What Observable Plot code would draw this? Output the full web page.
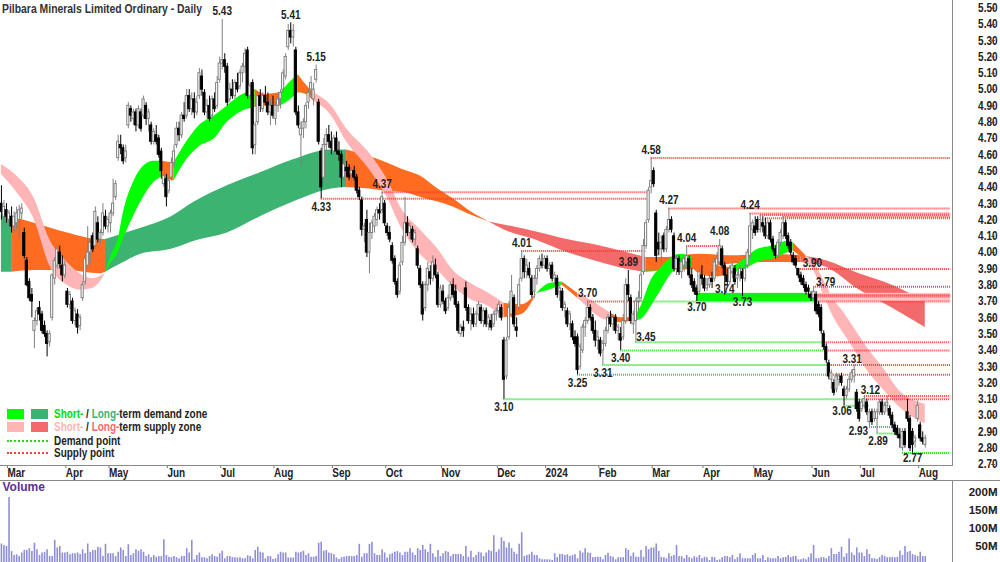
<!DOCTYPE html>
<html><head><meta charset="utf-8">
<script src="https://cdn.jsdelivr.net/npm/d3@7"></script>
<script src="https://cdn.jsdelivr.net/npm/@observablehq/plot@0.6"></script>
<style>
body{margin:0;background:#fff;}
#wrap{position:relative;width:1000px;height:562px;overflow:hidden;font-family:'Liberation Sans Narrow','Arial Narrow','Liberation Sans',Arial,sans-serif;}
#wrap svg{display:block}
.ln{position:absolute;background:#8a8a8a;}
.lg{position:absolute;font-size:12px;font-weight:bold;line-height:14px;color:#222;white-space:nowrap;transform:scaleX(0.83);transform-origin:0 50%;}
.ttl{position:absolute;left:2px;top:1px;font-size:13px;font-weight:bold;line-height:15px;color:#333;white-space:nowrap;transform:scaleX(0.8);transform-origin:0 50%;}
.sw{position:absolute;width:17px;height:10px;}
.dl{position:absolute;width:41px;height:0;border-top-width:2px;border-top-style:dotted;}
</style></head><body><div id="wrap"></div>
<script>
// ---------------- DATA ----------------
const holidayList = ["2023-04-07","2023-04-10","2023-04-25","2023-06-12","2023-12-25","2023-12-26","2024-01-01","2024-01-26","2024-03-29","2024-04-01","2024-04-25","2024-06-10"];

const open = [
4.30,4.22,4.26,4.20,4.22,4.16,4.18,4.20,4.24,4.12,
3.95,3.82,3.74,3.52,3.58,3.66,3.62,3.55,3.50,3.45,
3.60,3.84,3.92,4.00,3.92,3.86,3.76,3.68,3.70,3.58,
3.62,3.55,3.72,3.82,3.92,4.00,4.10,4.04,4.18,4.08,
4.12,4.22,4.16,4.18,4.24,4.34,4.58,4.66,4.64,4.58,
4.78,4.88,4.82,4.86,4.78,4.86,4.84,4.90,4.82,4.78,
4.68,4.72,4.70,4.62,4.42,4.45,4.38,4.46,4.55,4.66,
4.76,4.72,4.84,4.84,4.96,4.88,4.94,4.86,4.96,5.08,
4.98,4.86,4.90,4.84,4.94,4.90,5.06,5.16,5.18,5.14,
4.94,5.00,4.96,5.04,5.02,5.10,5.14,5.24,4.96,5.04,
4.66,4.80,4.96,4.88,4.96,4.92,4.86,4.90,4.82,4.90,
4.94,5.00,5.08,5.26,5.36,5.32,5.24,4.86,4.72,4.76,
4.80,4.92,5.00,4.94,5.06,4.92,4.62,4.46,4.66,4.72,
4.68,4.62,4.70,4.62,4.60,4.46,4.52,4.52,4.48,4.50,
4.46,4.38,4.32,4.14,4.20,4.00,4.12,4.16,4.20,4.26,
4.26,4.30,4.16,4.12,4.04,3.96,3.82,3.76,3.94,4.06,
4.18,4.12,4.14,4.08,4.02,3.90,3.80,3.66,3.80,3.88,
3.84,3.92,3.86,3.68,3.76,3.70,3.66,3.72,3.80,3.76,
3.68,3.50,3.54,3.78,3.66,3.58,3.62,3.56,3.62,3.66,
3.58,3.64,3.56,3.58,3.56,3.62,3.64,3.66,3.46,3.24,
3.48,3.62,3.72,3.54,3.66,3.84,3.96,3.88,3.90,3.84,
3.76,3.84,3.90,3.94,3.92,3.96,3.90,3.92,3.84,3.84,
3.76,3.76,3.66,3.64,3.56,3.56,3.48,3.48,3.30,3.40,
3.54,3.58,3.66,3.60,3.52,3.46,3.46,3.40,3.44,3.52,
3.60,3.56,3.60,3.52,3.50,3.48,3.58,3.80,3.72,3.56,
3.58,3.70,3.72,3.88,4.04,4.20,4.40,4.50,4.24,4.06,
4.02,4.10,4.02,4.14,4.20,4.10,3.90,3.96,3.88,3.92,
3.94,3.96,3.86,3.82,3.78,3.76,3.86,3.84,3.78,3.80,
3.84,3.84,3.92,3.94,4.02,3.92,3.86,3.82,3.88,3.90,
3.84,3.86,3.88,3.84,3.92,3.98,4.14,4.16,4.20,4.14,
4.18,4.16,4.10,4.18,4.08,4.02,3.98,4.06,4.10,4.18,
4.10,4.06,3.98,3.96,3.90,3.86,3.84,3.80,3.78,3.74,
3.72,3.74,3.68,3.66,3.50,3.42,3.32,3.22,3.20,3.16,
3.22,3.24,3.16,3.12,3.16,3.22,3.24,3.14,3.08,3.04,
3.06,3.08,2.96,3.02,2.98,2.98,3.02,3.08,3.02,3.06,
3.04,3.00,2.94,2.92,2.88,2.80,2.90,3.02,2.98,2.90,
2.84,2.98,2.94,2.86,2.82];

const high = [
4.41,4.32,4.30,4.26,4.28,4.25,4.28,4.29,4.30,4.15,
3.97,3.84,3.78,3.60,3.66,3.70,3.64,3.58,3.52,3.52,
3.87,3.97,4.05,4.04,3.98,3.95,3.78,3.76,3.72,3.66,
3.65,3.62,3.82,3.98,4.16,4.08,4.12,4.28,4.22,4.14,
4.30,4.26,4.22,4.26,4.45,4.44,4.72,4.72,4.66,4.66,
4.92,4.90,4.88,4.88,4.90,4.88,4.96,4.92,4.88,4.80,
4.76,4.78,4.72,4.64,4.49,4.48,4.46,4.58,4.66,4.80,
4.80,4.86,4.92,5.00,5.00,4.98,4.98,4.96,5.13,5.12,
5.00,4.94,4.96,4.96,4.98,5.08,5.20,5.43,5.22,5.16,
5.04,5.06,5.06,5.10,5.12,5.16,5.25,5.26,5.04,5.06,
4.80,4.98,5.00,4.98,5.02,4.98,4.94,4.96,4.92,4.98,
5.00,5.12,5.22,5.40,5.41,5.40,5.26,4.90,4.80,4.82,
4.92,5.00,5.08,5.04,5.15,4.94,4.64,4.70,4.76,4.78,
4.74,4.72,4.74,4.68,4.62,4.58,4.56,4.54,4.52,4.53,
4.48,4.40,4.34,4.18,4.26,4.18,4.20,4.24,4.28,4.30,
4.37,4.32,4.18,4.16,4.06,3.98,3.84,3.94,4.10,4.34,
4.22,4.18,4.16,4.14,4.04,3.92,3.82,3.82,3.94,3.92,
3.98,3.96,3.88,3.80,3.80,3.72,3.74,3.82,3.84,3.80,
3.70,3.56,3.58,3.82,3.68,3.66,3.66,3.64,3.70,3.68,
3.66,3.66,3.62,3.62,3.64,3.66,3.70,3.68,3.48,3.48,
3.70,3.86,3.74,3.60,3.84,4.01,3.98,3.96,3.94,3.86,
3.86,3.92,3.98,3.99,3.98,3.98,3.94,3.94,3.88,3.86,
3.80,3.78,3.70,3.66,3.64,3.58,3.52,3.50,3.44,3.56,
3.60,3.70,3.68,3.62,3.58,3.52,3.48,3.46,3.54,3.62,
3.64,3.62,3.62,3.56,3.54,3.62,3.84,3.89,3.74,3.64,
3.72,3.76,3.88,4.08,4.20,4.40,4.58,4.52,4.26,4.12,
4.10,4.12,4.16,4.27,4.22,4.12,3.98,3.98,3.96,3.98,
4.04,3.98,3.90,3.84,3.80,3.90,3.92,3.86,3.84,3.86,
3.88,3.96,4.00,4.08,4.04,3.94,3.90,3.92,3.94,3.92,
3.88,3.92,3.90,3.92,4.02,4.24,4.20,4.22,4.22,4.23,
4.22,4.21,4.20,4.20,4.10,4.04,4.08,4.14,4.22,4.20,
4.12,4.08,4.00,3.98,3.90,3.88,3.86,3.82,3.80,3.76,
3.79,3.76,3.70,3.68,3.52,3.44,3.34,3.28,3.22,3.26,
3.26,3.26,3.18,3.18,3.24,3.28,3.31,3.16,3.10,3.10,
3.12,3.10,3.04,3.04,3.04,3.04,3.10,3.10,3.08,3.12,
3.06,3.02,2.96,2.94,2.92,2.92,2.92,3.10,3.00,2.92,
2.88,3.09,2.96,2.90,2.88];

const low = [
4.20,4.16,4.18,4.16,4.12,4.12,4.14,4.08,4.20,3.96,
3.79,3.70,3.60,3.41,3.55,3.58,3.50,3.48,3.36,3.42,
3.58,3.80,3.90,3.90,3.82,3.84,3.66,3.65,3.56,3.55,
3.50,3.52,3.70,3.80,3.90,3.93,4.00,4.02,4.06,4.05,
4.10,4.14,4.12,4.12,4.22,4.32,4.56,4.60,4.54,4.55,
4.76,4.80,4.78,4.74,4.76,4.74,4.82,4.78,4.74,4.66,
4.66,4.66,4.58,4.45,4.40,4.28,4.36,4.44,4.52,4.64,
4.68,4.70,4.80,4.82,4.86,4.84,4.82,4.84,4.94,4.96,
4.84,4.82,4.80,4.82,4.86,4.88,5.04,5.12,5.10,4.90,
4.92,4.94,4.94,4.98,5.00,5.04,5.10,4.94,4.94,4.60,
4.60,4.78,4.86,4.86,4.90,4.84,4.78,4.82,4.78,4.86,
4.88,4.98,5.06,5.24,5.28,5.26,4.84,4.76,4.53,4.70,
4.76,4.88,4.96,4.90,5.04,4.66,4.33,4.44,4.62,4.64,
4.60,4.58,4.60,4.56,4.40,4.44,4.46,4.44,4.42,4.44,
4.36,4.32,4.10,4.06,3.97,3.87,4.08,4.12,4.16,4.20,
4.24,4.16,4.10,4.06,3.93,3.80,3.72,3.74,3.92,4.04,
4.10,4.08,4.06,4.04,3.90,3.78,3.58,3.64,3.76,3.80,
3.82,3.84,3.66,3.66,3.68,3.62,3.64,3.70,3.72,3.66,
3.50,3.48,3.48,3.64,3.56,3.52,3.54,3.54,3.58,3.56,
3.54,3.54,3.52,3.52,3.54,3.58,3.60,3.58,3.10,3.22,
3.46,3.60,3.54,3.48,3.64,3.82,3.84,3.84,3.84,3.72,
3.72,3.80,3.88,3.90,3.90,3.88,3.86,3.82,3.80,3.72,
3.70,3.64,3.60,3.54,3.52,3.46,3.42,3.25,3.28,3.38,
3.48,3.56,3.58,3.50,3.42,3.40,3.36,3.31,3.42,3.50,
3.54,3.52,3.50,3.46,3.40,3.46,3.56,3.70,3.56,3.50,
3.45,3.64,3.70,3.86,4.02,4.18,4.36,4.40,3.94,3.98,
3.92,4.00,4.00,4.12,4.12,3.88,3.86,3.86,3.84,3.88,
3.90,3.84,3.78,3.74,3.70,3.74,3.80,3.76,3.76,3.78,
3.78,3.82,3.88,3.92,3.90,3.74,3.80,3.80,3.84,3.80,
3.78,3.82,3.73,3.82,3.90,3.96,4.08,4.10,4.12,4.12,
4.12,4.08,4.08,4.06,4.00,3.96,3.96,4.04,4.08,4.08,
4.02,3.98,3.92,3.90,3.84,3.80,3.78,3.74,3.72,3.70,
3.70,3.62,3.60,3.50,3.40,3.32,3.22,3.16,3.12,3.14,
3.18,3.18,3.06,3.10,3.14,3.20,3.20,3.02,2.96,3.02,
3.04,3.00,2.93,2.94,2.96,2.89,3.00,3.00,3.00,3.02,
2.98,2.92,2.88,2.86,2.80,2.78,2.80,2.96,2.78,2.77,
2.80,2.96,2.84,2.82,2.80];

const close = [
4.25,4.28,4.22,4.24,4.16,4.22,4.24,4.26,4.27,3.98,
3.80,3.72,3.70,3.58,3.64,3.62,3.52,3.50,3.44,3.50,
3.86,3.95,4.02,3.93,3.86,3.92,3.68,3.74,3.58,3.64,
3.54,3.60,3.80,3.96,4.00,4.06,4.02,4.25,4.08,4.12,
4.24,4.16,4.20,4.24,4.30,4.42,4.68,4.64,4.56,4.62,
4.90,4.84,4.86,4.78,4.88,4.76,4.94,4.82,4.86,4.68,
4.74,4.68,4.60,4.50,4.47,4.34,4.44,4.55,4.62,4.76,
4.72,4.84,4.82,4.96,4.88,4.94,4.86,4.92,5.10,5.00,
4.86,4.90,4.82,4.94,4.88,5.04,5.16,5.18,5.14,4.92,
5.00,4.96,5.04,5.00,5.10,5.14,5.22,4.96,5.02,4.64,
4.78,4.96,4.90,4.96,4.92,4.86,4.90,4.84,4.90,4.94,
4.98,5.10,5.20,5.36,5.32,5.36,4.86,4.78,4.76,4.80,
4.90,4.98,5.04,5.00,5.12,4.68,4.40,4.66,4.72,4.68,
4.64,4.70,4.62,4.60,4.46,4.54,4.50,4.46,4.50,4.46,
4.38,4.34,4.14,4.16,4.00,4.12,4.18,4.22,4.26,4.24,
4.34,4.18,4.12,4.08,3.95,3.82,3.74,3.92,4.06,4.18,
4.12,4.16,4.08,4.12,3.92,3.80,3.62,3.80,3.90,3.84,
3.94,3.86,3.68,3.78,3.70,3.64,3.72,3.80,3.74,3.68,
3.52,3.54,3.52,3.66,3.58,3.62,3.56,3.62,3.68,3.58,
3.64,3.56,3.60,3.54,3.62,3.64,3.68,3.60,3.22,3.46,
3.66,3.76,3.56,3.52,3.80,3.96,3.88,3.92,3.86,3.74,
3.84,3.90,3.96,3.92,3.96,3.90,3.92,3.84,3.86,3.74,
3.78,3.66,3.68,3.56,3.62,3.48,3.44,3.28,3.42,3.54,
3.58,3.66,3.60,3.52,3.46,3.48,3.38,3.44,3.52,3.60,
3.56,3.60,3.52,3.54,3.46,3.58,3.80,3.74,3.58,3.62,
3.70,3.72,3.86,4.04,4.18,4.38,4.44,4.42,3.98,4.02,
4.06,4.02,4.14,4.20,4.14,3.90,3.96,3.88,3.94,3.96,
3.98,3.86,3.80,3.76,3.74,3.88,3.84,3.78,3.80,3.84,
3.82,3.94,3.96,4.04,3.92,3.86,3.82,3.90,3.92,3.82,
3.86,3.90,3.84,3.90,4.00,4.16,4.18,4.12,4.14,4.20,
4.16,4.10,4.18,4.08,4.02,3.98,4.06,4.12,4.18,4.10,
4.04,4.00,3.94,3.92,3.86,3.82,3.80,3.76,3.76,3.72,
3.76,3.64,3.62,3.52,3.42,3.34,3.24,3.26,3.14,3.24,
3.24,3.20,3.12,3.16,3.22,3.26,3.28,3.04,2.98,3.08,
3.10,3.02,3.02,2.96,3.02,3.02,3.08,3.02,3.06,3.08,
3.00,2.94,2.90,2.88,2.86,2.90,2.82,2.98,2.80,2.82,
2.86,3.06,2.86,2.84,2.86];

// volume, millions of shares
const volumeM = [
57,53,50,186,36,25,27,22,32,39,
39,44,36,59,41,25,32,34,41,22,
22,67,46,50,32,32,34,27,30,30,
32,28,41,30,57,34,39,39,48,46,
22,56,30,30,30,22,34,46,39,22,
55,25,30,41,37,41,34,22,27,19,
25,20,22,22,69,25,20,19,22,19,
16,22,22,44,32,67,13,25,32,19,
19,16,22,27,22,20,30,37,16,22,
22,19,19,18,19,16,16,24,22,16,
39,48,34,32,16,22,22,14,16,27,
34,32,32,18,18,18,34,32,34,37,
25,30,20,20,22,59,62,37,39,32,
30,27,18,14,19,20,22,22,22,22,
25,56,20,30,30,56,62,30,25,25,
41,32,18,27,30,34,36,32,25,34,
34,44,32,25,44,39,53,41,34,56,
30,20,39,22,30,36,34,22,28,28,
28,28,22,50,20,
37,19,25,34,32,22,32,39,36,80,
34,41,74,64,46,60,44,34,28,56,
88,22,25,27,34,25,25,16,13,13,
13,13,11,30,19,28,28,25,27,22,
25,27,16,37,32,44,32,31,19,20,
20,20,13,25,31,22,20,13,19,19,
19,44,39,22,32,20,20,39,20,50,
41,46,46,57,36,20,19,16,30,22,
25,53,22,22,16,25,19,16,22,19,
25,16,20,19,11,20,19,11,13,19,
22,22,19,25,13,19,30,16,16,16,
16,25,30,16,16,25,11,19,16,16,
16,22,16,19,20,25,19,22,22,13,
13,16,13,19,30,53,16,16,19,19,
16,22,44,28,28,34,48,20,30,71,
32,25,46,32,32,22,41,28,16,16,
14,19,25,22,19,19,20,19,20,37,
25,50,34,36,28,25,22,34,22,22];

// short-term zone (band between two averages), sampled by trading-day index
const stDay   = [0,6,13,19,26,31,36,41,43,46,48,52,56,60,63,68,73,78,84,89,94,100,104,110,114,117,120,123,130,136,145,152,158,165,172,178,185,192,198,205,211,216,221,227,232,236,240,244,249,252,256,260,264,268,272,275,281,288,293,298,304,310,312,317,321,324,328,332,335,341,348,354,364];
const stUpper = [4.54,4.47,4.33,4.08,3.94,3.87,3.84,3.87,3.97,4.08,4.24,4.43,4.53,4.56,4.56,4.55,4.68,4.78,4.84,4.90,4.96,5.00,4.97,4.98,5.05,5.09,5.03,4.98,4.90,4.76,4.61,4.45,4.26,4.14,4.02,3.89,3.81,3.75,3.69,3.68,3.75,3.81,3.82,3.75,3.71,3.67,3.63,3.60,3.60,3.67,3.83,3.91,3.97,3.99,3.97,3.95,3.92,3.91,3.96,4.02,4.04,4.07,4.06,3.98,3.92,3.83,3.71,3.63,3.56,3.42,3.28,3.15,3.07];
const stLower = [4.48,4.37,4.20,3.92,3.80,3.77,3.78,3.87,3.93,4.00,4.08,4.22,4.34,4.43,4.46,4.44,4.57,4.65,4.70,4.80,4.86,4.89,4.90,4.90,4.94,4.98,4.97,4.93,4.84,4.68,4.51,4.34,4.14,3.99,3.89,3.79,3.71,3.67,3.60,3.62,3.75,3.77,3.80,3.72,3.65,3.60,3.58,3.57,3.58,3.59,3.67,3.77,3.87,3.91,3.91,3.87,3.85,3.87,3.90,3.94,3.96,4.00,4.01,3.95,3.86,3.74,3.60,3.50,3.43,3.28,3.15,3.05,2.95];
const stKind  = ["S","S","S","S","S","S","S","D","D","D","D","D","D","D","T","D","D","D","D","D","D","T","T","D","D","T","T","S","S","S","S","S","S","S","S","S","S","S","T","T","D","D","T","S","S","S","T","T","D","D","D","D","D","D","T","T","T","D","D","D","D","D","T","S","S","S","S","S","S","S","S","S","S"];

// long-term zone
const ltDay   = [0,4,13,26,39,41,47,55,67,76,89,102,115,130,136,145,152,158,165,172,178,185,192,198,210,223,236,249,254,262,275,288,302,315,325,338,351,364];
const ltUpper = [4.23,4.22,4.18,4.12,4.08,4.08,4.11,4.15,4.22,4.31,4.41,4.49,4.57,4.63,4.63,4.59,4.55,4.51,4.47,4.39,4.33,4.25,4.19,4.17,4.13,4.08,4.04,3.99,3.97,3.97,3.99,3.98,3.99,3.98,3.95,3.87,3.80,3.70];
const ltLower = [3.88,3.88,3.89,3.89,3.87,3.88,3.93,3.99,4.02,4.07,4.12,4.22,4.31,4.39,4.40,4.39,4.375,4.37,4.34,4.31,4.28,4.23,4.19,4.14,4.08,4.00,3.94,3.89,3.88,3.89,3.90,3.93,3.94,3.94,3.91,3.77,3.66,3.54];
const ltKind  = ["D","T","T","T","T","D","D","D","D","D","D","D","D","D","T","T","T","T","T","T","T","T","S","S","S","S","S","S","T","T","T","T","T","S","S","S","S","S"];

// demand / supply points (null end = still open)
const levelValue = [4.33,4.37,4.01,4.58,4.27,4.24,4.23,4.22,4.21,4.04,3.90,3.79,3.10,3.10,3.25,3.25,3.31,3.31,3.40,3.40,3.45,3.45,3.70,3.70,3.70,3.74,3.74,3.73,3.73,3.12,3.06,2.93,2.89,2.77,3.89];
const levelFrom  = [126,150,205,256,263,295,299,308,301,270,314,320,198,340,227,327,237,327,244,326,250,325,231,252,321,285,321,292,321,340,332,342,345,355,252];
const levelTo    = [255,255,254,null,null,null,null,null,null,283,null,null,340,null,327,null,327,null,326,null,325,null,252,321,null,321,null,321,null,null,342,352,354,null,258];
const levelKind  = ["S","S","S","S","S","S","S","S","S","S","S","S","D","S","D","S","D","S","D","S","D","S","S","D","S","D","S","D","S","S","D","D","D","D","D"];

// short-term zone boxes
const zoneFrom = [274, 321];
const zoneTo   = [321, null];
const zoneLow  = [3.70, 3.70];
const zoneHigh = [3.75, 3.75];
const zoneKind = ["D", "S"];

// pivot labels
const labelValue = [5.43,5.41,5.15,4.33,4.37,4.01,3.10,3.25,3.70,3.31,3.40,3.89,3.45,4.58,4.27,4.04,4.08,3.70,3.74,3.73,4.24,3.90,3.79,3.31,3.12,3.06,2.93,2.89,2.77];
const labelDay   = [87,114,124,126,150,205,198,227,231,237,244,247,250,256,263,270,283,274,285,292,295,314,320,336,340,332,342,345,359];
const labelSide  = ["H","H","H","L","H","H","L","L","H","L","L","H","L","H","H","H","H","L","L","L","H","H","H","H","H","L","L","L","L"];

const priceTicks = d3.range(27, 56).map(d => d / 10);
const volumeTicks = [50, 100, 150, 200];
const title = "Pilbara Minerals Limited Ordinary - Daily";

// ---------------- RENDER ----------------
const FONT = "'Liberation Sans Narrow','Arial Narrow','Liberation Sans',Arial,sans-serif";
const NARROW = 0.83; // horizontal squeeze to imitate the narrow face
const wrap = document.getElementById("wrap");
try {
const N = Math.min(open.length, high.length, low.length, close.length);
const holidays = new Set(holidayList);
const dates = [];
for (let t = new Date(Date.UTC(2023, 1, 27)); dates.length < N; t.setUTCDate(t.getUTCDate() + 1)) {
  const wd = t.getUTCDay();
  if (wd !== 0 && wd !== 6 && !holidays.has(t.toISOString().slice(0, 10))) dates.push(new Date(t));
}
const monthIdx = [], monthLab = new Map();
for (let i = 1; i < N; i++) {
  if (dates[i].getUTCMonth() !== dates[i - 1].getUTCMonth()) {
    monthIdx.push(i);
    monthLab.set(i, dates[i].getUTCMonth() === 0 ? String(dates[i].getUTCFullYear()) : d3.utcFormat("%b")(dates[i]));
  }
}
const X_DOMAIN = [-0.364, 374.73];
const END = 374;
const COL = {S: "#ffb5b5", D: "#00ff00", T: "#ff6b21"};
const LCOL = {S: "#f36a6a", D: "#3cb371", T: "#ff6b21"};
const LINECOL = {S: "#ff3a3a", D: "#22dd22"};

function bandRows(day, up, lo, kind, pal) {
  const rows = []; let seg = -1;
  for (let j = 0; j < day.length - 1; j++) {
    if (j === 0 || kind[j] !== kind[j - 1]) { seg++; rows.push({i: day[j], a: up[j], b: lo[j], seg, color: pal[kind[j]]}); }
    rows.push({i: day[j + 1], a: up[j + 1], b: lo[j + 1], seg, color: pal[kind[j]]});
  }
  return rows;
}
const ltRows = bandRows(ltDay, ltUpper, ltLower, ltKind, LCOL);
const stRows = bandRows(stDay, stUpper, stLower, stKind, COL);
const candles = d3.range(N).map(i => ({i, o: open[i], h: high[i], l: low[i], c: close[i], up: close[i] >= open[i]}));
const levels = levelValue.map((v, k) => ({v, s: levelFrom[k], e: levelTo[k] == null ? END : levelTo[k], color: LINECOL[levelKind[k]]}));
const zones = zoneFrom.map((f, k) => ({s: f, e: zoneTo[k] == null ? END : zoneTo[k], lo: zoneLow[k], hi: zoneHigh[k], color: zoneKind[k] === "D" ? "#00ff00" : "#ffc6c6"}));
const labels = labelValue.map((v, k) => ({v, i: labelDay[k], side: labelSide[k], t: v.toFixed(2)}));
// pixel nudges for labels that sit beside their point
const nudge = {12: [10, -5], 17: [0, 6], 18: [0, -6], 19: [0, 6], 21: [14, -6], 22: [12, -5], 23: [-2, -6], 24: [6, -6], 25: [-2, 5], 26: [-11, 4], 27: [1, 8], 28: [0, 5]};

const textStyle = {fontFamily: FONT, fontWeight: "bold", fontSize: 12, fill: "#222"};

const price = Plot.plot({
  width: 1000, height: 480, marginTop: 0, marginLeft: 0, marginRight: 48, marginBottom: 15,
  x: {domain: X_DOMAIN, axis: null},
  y: {domain: [2.70, 5.50], range: [464, 7.6], axis: null},
  color: {type: "identity"},
  style: {fontFamily: FONT, fontSize: "12px", color: "#222", background: "transparent", overflow: "visible"},
  marks: [
    Plot.area(ltRows, {x1: "i", y1: "a", y2: "b", z: "seg", fill: "color", curve: "monotone-x"}),
    Plot.area(stRows, {x1: "i", y1: "a", y2: "b", z: "seg", fill: "color", curve: "monotone-x"}),
    Plot.rect(zones, {x1: "s", x2: "e", y1: "lo", y2: "hi", fill: "color"}),
    Plot.ruleY(levels, {y: "v", x1: "s", x2: "e", stroke: "color", strokeWidth: 2, strokeDasharray: "1,1"}),
    Plot.ruleX(candles, {x: "i", y1: "l", y2: "h", stroke: d => d.up ? "#808080" : "#000000", strokeWidth: 1}),
    Plot.rect(candles, {x1: d => d.i - 0.42, x2: d => d.i + 0.42, y1: "o", y2: "c", fill: d => d.up ? "#ffffff" : "#000000", stroke: d => d.up ? "#808080" : "#000000", strokeWidth: 1}),
    ...labels.map((l, k) => {
      const [dx, dy] = nudge[k] || [0, l.side === "H" ? -8 : 8];
      return Plot.text([l], {x: "i", y: "v", text: "t", dx, dy, ...textStyle});
    }),
    Plot.axisX({ticks: monthIdx, tickFormat: d => monthLab.get(d), tickSize: 3, tickPadding: 0, textAnchor: "start", dx: 1, stroke: "#777", ...textStyle, label: null}),
    Plot.axisY({anchor: "right", ticks: priceTicks, tickFormat: d3.format(".2f"), tickSize: 4, tickPadding: 3, textAnchor: "end", dx: 38, stroke: "#777", ...textStyle, label: null})
  ]
});

const volRows = d3.range(Math.min(N, volumeM.length)).map(i => ({i, v: volumeM[i]}));
const vol = Plot.plot({
  width: 1000, height: 82, marginTop: 0, marginLeft: 0, marginRight: 48, marginBottom: 0,
  x: {domain: X_DOMAIN, axis: null},
  y: {domain: [0, 200], range: [84, 12], axis: null},
  style: {fontFamily: FONT, fontSize: "12px", color: "#222", background: "transparent", overflow: "visible"},
  marks: [
    Plot.ruleX(volRows, {x: "i", y1: () => 0, y2: "v", stroke: "#8e8ed6", strokeWidth: 1.6}),
    Plot.axisY({anchor: "right", ticks: volumeTicks, tickFormat: d => d + "M", tickSize: 4, tickPadding: 3, textAnchor: "end", dx: 38, stroke: "#777", ...textStyle, fontSize: 11.5, label: null}),
    Plot.text(["Volume"], {frameAnchor: "top-left", text: d => d, dx: 2, dy: 2, textAnchor: "start", lineAnchor: "top", fontFamily: FONT, fontWeight: "bold", fontSize: 12, fill: "#5e2f94"})
  ]
});
wrap.append(price, vol);

// squeeze price-panel texts horizontally (the narrow face is not installed)
for (const el of price.querySelectorAll("text")) {
  const len = el.getComputedTextLength();
  if (len > 0) { el.setAttribute("textLength", (len * NARROW).toFixed(1)); el.setAttribute("lengthAdjust", "spacingAndGlyphs"); }
}

// title
const ttl = document.createElement("div");
ttl.className = "ttl"; ttl.textContent = title;
wrap.append(ttl);

// panel borders
const lines = [[0,465,952,1],[952,0,1,466],[0,480,1000,1],[952,480,1,82]];
for (const [l,t,w,h] of lines) { const d = document.createElement("div"); d.className = "ln"; d.style.cssText = `left:${l}px;top:${t}px;width:${w}px;height:${h}px`; wrap.append(d); }

// legend
const leg = document.createElement("div");
leg.innerHTML = `
<div class="sw" style="left:7px;top:409px;background:${COL.D}"></div>
<div class="sw" style="left:31px;top:409px;background:${LCOL.D}"></div>
<div class="lg" style="left:54px;top:407px"><span style="color:#00dd00">Short-</span> / <span style="color:${LCOL.D}">Long-</span>term demand zone</div>
<div class="sw" style="left:7px;top:422px;background:${COL.S}"></div>
<div class="sw" style="left:31px;top:422px;background:${LCOL.S}"></div>
<div class="lg" style="left:54px;top:420px"><span style="color:${COL.S}">Short-</span> / <span style="color:${LCOL.S}">Long-</span>term supply zone</div>
<div class="dl" style="left:7px;top:440px;border-top-color:${LINECOL.D}"></div>
<div class="lg" style="left:54px;top:434px">Demand point</div>
<div class="dl" style="left:7px;top:452px;border-top-color:${LINECOL.S}"></div>
<div class="lg" style="left:54px;top:446px">Supply point</div>`;
wrap.append(leg);
} catch (e) { wrap.textContent = "Error: " + e.message; console.error(e); }
</script></body></html>
